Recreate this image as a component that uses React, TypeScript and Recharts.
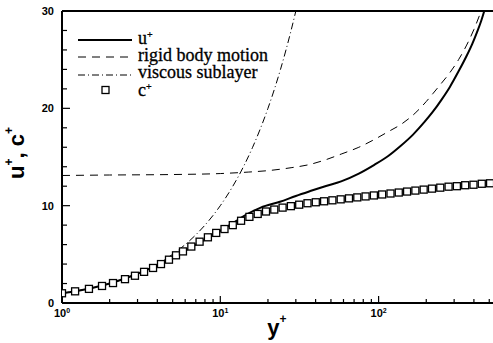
import React from 'react';
import { ComposedChart, Line, Scatter, XAxis, YAxis, ReferenceLine, Legend } from 'recharts';

// wall distance y+ and streamwise velocity u+
const uWallY = [1, 1.5, 2, 3, 4, 5, 6, 7, 8, 9, 10, 12, 14.7, 18, 23.8, 30, 37, 46, 58, 75, 94, 115, 137, 165, 195, 219, 250, 282, 320, 360, 390, 418, 445, 465, 480];
const uPlus = [1.0, 1.5, 2.0, 3.0, 3.9, 4.7, 5.4, 6.0, 6.5, 7.0, 7.4, 8.2, 9.1, 9.8, 10.4, 11.0, 11.5, 12.0, 12.5, 13.3, 14.2, 15.1, 16.1, 17.3, 18.6, 19.6, 20.9, 22.2, 23.8, 25.4, 26.6, 27.8, 29.0, 30.0, 30.8];

// rigid body motion reference
const rigidWallY = [1, 2, 5, 10, 15, 20, 28, 36, 46, 58, 75, 94, 115, 140, 170, 200, 220, 250, 280, 320, 360, 400, 440, 460];
const rigidU = [13.1, 13.15, 13.2, 13.3, 13.45, 13.6, 13.9, 14.2, 14.7, 15.3, 16.0, 16.8, 17.6, 18.4, 19.5, 20.7, 21.5, 22.6, 23.6, 25.0, 26.5, 28.1, 29.8, 30.6];

// viscous sublayer u+ = y+
const viscWallY = [1, 2, 3, 4, 5, 6, 7, 8, 9, 10, 12, 14, 16, 18, 20, 22, 24, 26, 28, 30, 31];
const viscU = [1, 2, 3, 4, 5, 6, 7, 8, 9, 10, 12, 14, 16, 18, 20, 22, 24, 26, 28, 30, 31];

// convection velocity c+ at grid points
const cWallY = [1.0, 1.21, 1.48, 1.79, 2.1, 2.5, 2.89, 3.3, 3.76, 4.22, 4.74, 5.25, 5.81, 6.56, 7.4, 8.35, 9.42, 10.63, 11.99, 13.53, 15.27, 17.23, 19.44, 21.93, 24.75, 27.92, 31.5, 35.55, 40.11, 45.25, 51.06, 57.61, 65.0, 73.34, 82.75, 93.37, 105.3, 118.9, 134.1, 151.3, 170.7, 192.6, 217.4, 245.2, 276.7, 312.2, 352.3, 397.5, 448.5, 506.0];
const cPlus = [1.0, 1.2, 1.45, 1.75, 2.05, 2.45, 2.8, 3.2, 3.6, 4.0, 4.45, 4.9, 5.3, 5.8, 6.3, 6.75, 7.2, 7.6, 8.0, 8.45, 8.85, 9.15, 9.4, 9.6, 9.8, 9.95, 10.1, 10.25, 10.35, 10.45, 10.55, 10.65, 10.75, 10.85, 10.95, 11.05, 11.15, 11.25, 11.35, 11.45, 11.55, 11.65, 11.75, 11.85, 11.95, 12.0, 12.1, 12.15, 12.25, 12.3];

const xTicks = [1, 2, 3, 4, 5, 6, 7, 8, 9, 10, 20, 30, 40, 50, 60, 70, 80, 90, 100, 200, 300, 400, 500];
const yTicks = [0, 2, 4, 6, 8, 10, 12, 14, 16, 18, 20, 22, 24, 26, 28, 30];
const xMajor: Record<number, string> = { 1: '0', 10: '1', 100: '2' };

const toRows = (xs: number[], ys: number[]) => xs.map((x, i) => ({ yp: x, val: ys[i] }));

const uData = toRows(uWallY, uPlus);
const rigidData = toRows(rigidWallY, rigidU);
const viscData = toRows(viscWallY, viscU);
const cData = toRows(cWallY, cPlus);

const SANS = '"Liberation Sans", Arial, sans-serif';
const SERIF = '"Liberation Serif", "Times New Roman", serif';

function XTick(props: any) {
  const { x, y, payload } = props;
  const major = xMajor[payload.value];
  return (
    <g>
      <line x1={x} y1={y} x2={x} y2={y - (major ? 7 : 4)} stroke="#000" strokeWidth={1.2} />
      {major && (
        <text x={x} y={y + 14} textAnchor="middle" fontFamily={SANS} fontWeight="bold" fontSize={11} fill="#000">
          10<tspan dy={-4} fontSize={7}>{major}</tspan>
        </text>
      )}
    </g>
  );
}

function YTick(props: any) {
  const { x, y, payload } = props;
  const major = payload.value % 10 === 0;
  return (
    <g>
      <line x1={x} y1={y} x2={x + (major ? 8 : 5)} y2={y} stroke="#000" strokeWidth={1.2} />
      {major && (
        <text x={x - 8} y={y + 4} textAnchor="end" fontFamily={SANS} fontWeight="bold" fontSize={11} fill="#000">
          {payload.value}
        </text>
      )}
    </g>
  );
}

function Square(props: any) {
  const { cx, cy } = props;
  return <rect x={cx - 3.5} y={cy - 3.5} width={7} height={7} fill="#fff" stroke="#000" strokeWidth={1.3} />;
}

function LegendBox() {
  const row = (y: number) => y - 28;
  return (
    <svg width={230} height={80} style={{ overflow: 'visible' }}>
      <line x1={8} y1={row(40)} x2={62} y2={row(40)} stroke="#000" strokeWidth={2} />
      <line x1={8} y1={row(57)} x2={62} y2={row(57)} stroke="#000" strokeWidth={1} strokeDasharray="8 6" />
      <line x1={8} y1={row(75)} x2={62} y2={row(75)} stroke="#000" strokeWidth={1} strokeDasharray="7 3 1 3" />
      <rect x={32} y={row(90) - 3.5} width={7} height={7} fill="#fff" stroke="#000" strokeWidth={1.3} />
      <g fontFamily={SERIF} fontSize={18} fill="#000" stroke="#000" strokeWidth={0.3}>
        <text x={68} y={row(44)}>u<tspan dy={-6} fontSize={10}>+</tspan></text>
        <text x={68} y={row(61)}>rigid body motion</text>
        <text x={68} y={row(78)}>viscous sublayer</text>
        <text x={68} y={row(96)}>c<tspan dy={-6} fontSize={10}>+</tspan></text>
      </g>
    </svg>
  );
}

export default function App() {
  return (
    <div style={{ position: 'absolute', left: 0, top: 0, width: 493, height: 343, background: '#fff' }}>
      <ComposedChart width={493} height={343} margin={{ top: 11, right: 0, bottom: 0, left: 0 }}>
        <XAxis
          dataKey="yp"
          type="number"
          scale="log"
          domain={[1, 528]}
          allowDataOverflow
          ticks={xTicks}
          interval={0}
          height={40}
          tickSize={0}
          tickMargin={0}
          tickLine={false}
          tick={<XTick />}
          axisLine={{ stroke: '#000', strokeWidth: 2 }}
          label={{
            content: () => (
              <text x={277} y={335} textAnchor="middle" fontFamily={SANS} fontWeight="bold" fontSize={22} fill="#000">
                y<tspan dy={-12} fontSize={12}>+</tspan>
              </text>
            ),
          }}
        />
        <YAxis
          dataKey="val"
          type="number"
          domain={[0, 30]}
          allowDataOverflow
          ticks={yTicks}
          interval={0}
          width={62}
          tickSize={0}
          tickMargin={0}
          tickLine={false}
          tick={<YTick />}
          axisLine={{ stroke: '#000', strokeWidth: 2 }}
          label={{
            content: () => (
              <text x={24} y={153} transform="rotate(-90 24 153)" textAnchor="middle" fontFamily={SANS} fontWeight="bold" fontSize={22} fill="#000">
                u<tspan dy={-11} fontSize={12}>+</tspan><tspan dy={11}>, c</tspan><tspan dy={-11} fontSize={12}>+</tspan>
              </text>
            ),
          }}
        />
        <ReferenceLine y={30} stroke="#000" strokeWidth={2} />
        <Line data={viscData} dataKey="val" type="monotone" stroke="#000" strokeWidth={1} strokeDasharray="7 3 1 3" dot={false} isAnimationActive={false} />
        <Line data={rigidData} dataKey="val" type="monotone" stroke="#000" strokeWidth={1} strokeDasharray="8 6" dot={false} isAnimationActive={false} />
        <Line data={uData} dataKey="val" type="monotone" stroke="#000" strokeWidth={2} dot={false} isAnimationActive={false} />
        <Scatter data={cData} dataKey="val" shape={<Square />} isAnimationActive={false} />
        <Legend
          layout="vertical"
          align="center"
          verticalAlign="middle"
          content={() => <LegendBox />}
          wrapperStyle={{ position: 'absolute', left: 70, top: 28, width: 230, height: 80 }}
        />
      </ComposedChart>
    </div>
  );
}
